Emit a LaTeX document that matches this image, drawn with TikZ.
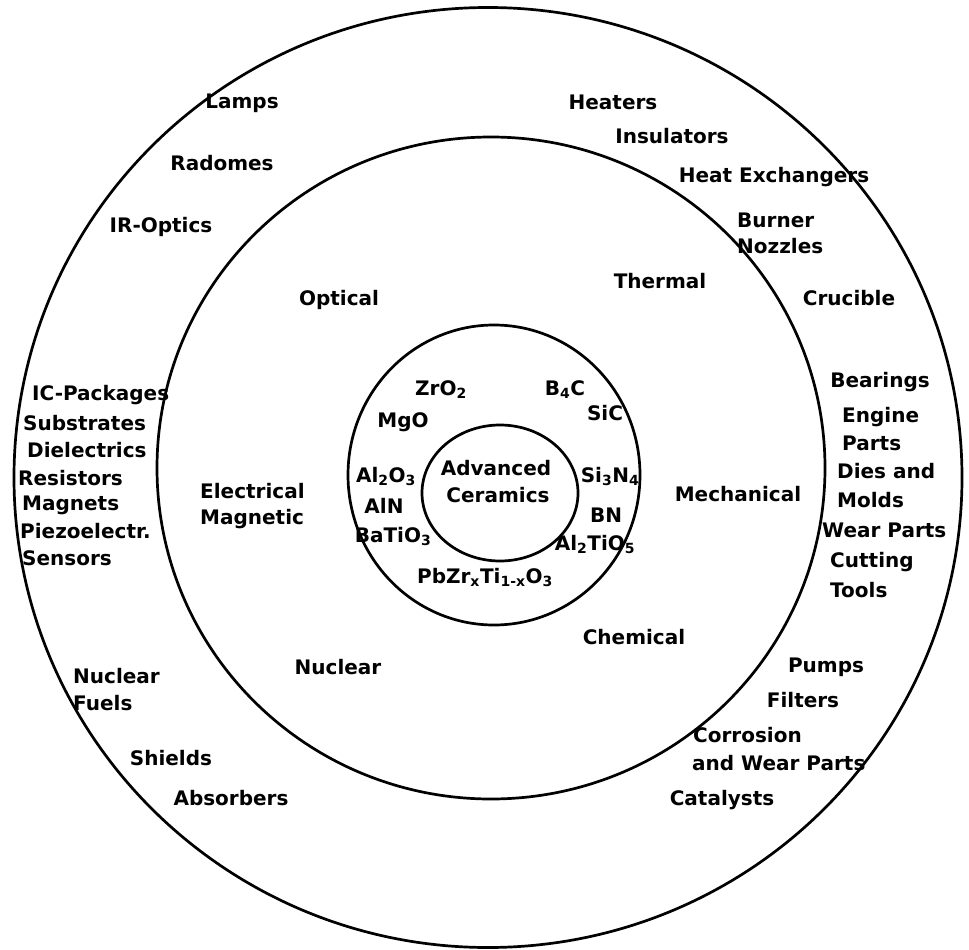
\documentclass[tikz,border=0pt]{standalone}
\usepackage{fontspec}
\setmainfont{DejaVu Sans}
\usetikzlibrary{positioning}
\newcommand{\sub}[1]{\textsubscript{#1}}

\begin{document}
\begin{tikzpicture}[x=1pt,y=-1pt,
  lbl/.style={font=\fontsize{20}{22}\selectfont\bfseries,inner sep=0pt,anchor=base},
  lft/.style={lbl,anchor=base west},
  ring/.style={draw,line width=2.7pt}
]
\useasboundingbox (0,0) rectangle (969,950);
% circles
\draw[ring] (488,477.5) ellipse [x radius=474,y radius=470];
\draw[ring] (491,468) ellipse [x radius=334,y radius=331];
\draw[ring] (494,475) ellipse [x radius=146,y radius=150];
\draw[ring] (500,493) ellipse [x radius=78,y radius=68];
% centre
\node[lbl] (adv) at (496,475) {Advanced};
\node[lbl] (cer) at (498,502) {Ceramics};
% materials
\node[lbl] (zro) at (441,395) {ZrO\sub{2}};
\node[lbl] (bc)  at (565,395) {B\sub{4}C};
\node[lbl] (sic) at (605,420) {SiC};
\node[lbl] (mgo) at (403,427) {MgO};
\node[lbl] (alo) at (386,482) {Al\sub{2}O\sub{3}};
\node[lbl] (aln) at (384,513) {AlN};
\node[lbl] (bto) at (393,542) {BaTiO\sub{3}};
\node[lbl] (sin) at (610,482) {Si\sub{3}N\sub{4}};
\node[lbl] (bn)  at (606,522) {BN};
\node[lbl] (ato) at (595,550) {Al\sub{2}TiO\sub{5}};
\node[lbl] (pzt) at (485,583) {PbZr\sub{x}Ti\sub{1-x}O\sub{3}};
% properties
\node[lbl] (opt)  at (339,305) {Optical};
\node[lbl] (ther) at (660,288) {Thermal};
\node[lft] (elec) at (200,498) {Electrical};
\node[lft] (magn) at (200,524) {Magnetic};
\node[lbl] (mech) at (738,501) {Mechanical};
\node[lbl] (nucl) at (338,674) {Nuclear};
\node[lbl] (chem) at (634,644) {Chemical};
% applications
\node[lbl] (lamp) at (242,108) {Lamps};
\node[lbl] (rad)  at (222,170) {Radomes};
\node[lbl] (ir)   at (161,232) {IR-Optics};
\node[lbl] (heat) at (613,109) {Heaters};
\node[lbl] (ins)  at (672,143) {Insulators};
\node[lbl] (hex)  at (774,182) {Heat Exchangers};
\node[lft] (burn) at (737,227) {Burner};
\node[lft] (noz)  at (737,253) {Nozzles};
\node[lbl] (cruc) at (849,305) {Crucible};
\node[lft] (icp)  at (32,400) {IC-Packages};
\node[lft] (subs) at (23,430) {Substrates};
\node[lft] (diel) at (27,457) {Dielectrics};
\node[lft] (res)  at (18,485) {Resistors};
\node[lft] (mag)  at (22,510) {Magnets};
\node[lft] (piez) at (20,538) {Piezoelectr.};
\node[lft] (sens) at (22,565) {Sensors};
\node[lbl] (bear) at (880,387) {Bearings};
\node[lft] (eng)  at (842,422) {Engine};
\node[lft] (eprt) at (842,450) {Parts};
\node[lft] (dies) at (837,478) {Dies and};
\node[lft] (mold) at (837,507) {Molds};
\node[lft] (wear) at (822,537) {Wear Parts};
\node[lft] (cut)  at (830,567) {Cutting};
\node[lft] (tool) at (830,597) {Tools};
\node[lft] (nfu)  at (73,683) {Nuclear};
\node[lft] (fuel) at (73,710) {Fuels};
\node[lbl] (shld) at (171,765) {Shields};
\node[lbl] (abs)  at (231,805) {Absorbers};
\node[lbl] (pump) at (826,672) {Pumps};
\node[lbl] (filt) at (803,707) {Filters};
\node[lft] (corr) at (693,742) {Corrosion};
\node[lft] (cwp)  at (692,770) {and Wear Parts};
\node[lbl] (cat)  at (722,805) {Catalysts};
\end{tikzpicture}
\end{document}
